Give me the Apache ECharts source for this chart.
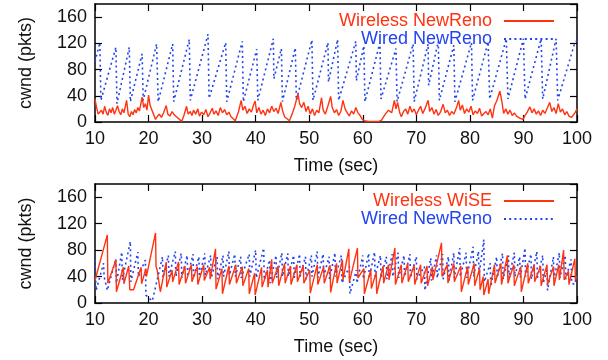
<!DOCTYPE html>
<html><head><meta charset="utf-8">
<script src="https://cdn.jsdelivr.net/npm/echarts@6/dist/echarts.min.js"></script>
<style>html,body{margin:0;padding:0;background:#fff}#c{width:608px;height:360px}</style>
</head><body><div id="c"></div>
<script>
// ---- data (time in sec, cwnd in pkts) ----
const xTicks = [10, 20, 30, 40, 50, 60, 70, 80, 90, 100];
const yTicks = [0, 40, 80, 120, 160];

const wirelessNewReno = [[10.0,35],[10.3,22],[10.6,12],[10.9,9],[11.2,18],[11.5,12],[11.8,24],[12.1,15],[12.4,10],[12.7,20],[13.0,14],[13.3,22],[13.6,12],[13.9,18],[14.2,25],[14.5,16],[14.8,11],[15.1,20],[15.4,14],[15.9,33],[16.2,12],[16.5,8],[16.8,16],[17.1,11],[17.4,19],[17.7,14],[18.0,22],[18.3,17],[18.8,38],[19.1,22],[19.4,28],[19.7,18],[20.0,41],[20.3,25],[20.6,22],[21.3,4],[21.6,8],[22.0,12],[22.4,7],[22.8,14],[23.3,25],[23.6,12],[24.0,9],[24.4,16],[24.8,11],[25.2,8],[26.2,1],[26.6,10],[27.1,24],[27.4,12],[27.8,16],[28.1,10],[28.4,18],[28.8,12],[29.2,20],[29.5,9],[29.9,15],[30.3,11],[30.7,19],[31.1,8],[31.5,14],[31.9,21],[32.2,12],[32.6,17],[33.0,10],[33.4,22],[33.8,14],[34.2,19],[34.6,11],[35.0,15],[35.4,8],[36.2,2],[36.8,16],[37.3,33],[37.6,18],[38.0,24],[38.4,13],[38.8,20],[39.2,15],[39.6,26],[39.9,32],[40.2,14],[40.6,22],[41.0,12],[41.4,18],[41.8,10],[42.2,20],[42.6,14],[43.0,24],[43.4,16],[43.8,21],[44.2,13],[44.7,30],[45.0,18],[45.4,8],[46.3,2],[46.8,12],[47.3,24],[47.9,43],[48.2,28],[48.6,22],[49.0,30],[49.4,16],[49.8,24],[50.2,12],[50.6,20],[51.0,10],[51.4,18],[51.8,14],[52.3,37],[52.6,18],[53.0,12],[53.4,22],[54.0,39],[54.3,22],[54.7,14],[55.1,19],[55.5,10],[55.9,16],[56.3,33],[56.7,20],[57.1,14],[57.5,9],[57.9,17],[58.3,12],[58.7,22],[59.1,14],[59.5,10],[59.9,4],[60.3,2],[61.0,1],[62.0,1],[63.0,1],[63.5,3],[64.2,12],[64.8,18],[65.4,14],[65.9,33],[66.2,20],[66.5,30],[66.9,14],[67.2,8],[67.6,16],[68.0,20],[68.4,12],[68.8,24],[69.2,15],[69.6,20],[70.0,11],[70.4,18],[70.8,24],[71.2,13],[71.6,20],[72.2,33],[72.5,16],[72.9,22],[73.3,12],[73.7,19],[74.1,10],[74.5,15],[75.0,27],[75.4,14],[75.8,18],[76.2,10],[76.6,16],[77.0,12],[77.5,22],[77.9,33],[78.2,18],[78.6,26],[79.0,13],[79.4,20],[79.8,15],[80.2,24],[80.6,11],[81.0,17],[81.4,13],[81.8,21],[82.2,9],[82.6,13],[83.0,16],[83.4,11],[83.8,20],[84.2,6],[84.6,25],[85.0,32],[85.6,47],[86.0,30],[86.3,13],[86.7,20],[87.1,12],[87.5,18],[87.9,10],[88.3,14],[88.7,9],[89.3,6],[89.9,4],[90.3,10],[90.7,15],[91.2,23],[91.6,14],[92.0,20],[92.4,12],[92.8,17],[93.2,10],[93.6,18],[94.0,13],[94.5,22],[94.9,30],[95.3,16],[95.7,22],[96.1,13],[96.5,28],[96.9,15],[97.3,20],[97.7,11],[98.1,16],[98.5,9],[99.0,7],[99.3,5],[99.7,15],[100,20]];

const wiredNewRenoTop = [[10.0,92],[10.9,121],[11.1,33],[13.9,114],[14.1,28],[16.4,114],[16.6,31],[18.8,104],[19.0,33],[21.5,119],[21.8,31],[24.5,119],[24.7,31],[27.6,126],[27.8,33],[31.1,134],[31.3,36],[34.4,121],[34.6,31],[37.5,123],[37.7,31],[40.2,111],[40.4,33],[43.3,127],[43.4,66],[44.8,112],[45.0,31],[47.4,113],[47.6,33],[50.5,125],[50.7,33],[53.5,121],[53.6,61],[55.3,126],[55.5,33],[58.7,123],[58.8,63],[60.2,116],[60.4,31],[63.2,121],[63.4,35],[66.2,112],[66.4,31],[69.4,119],[69.6,31],[72.2,119],[72.3,56],[74.1,123],[74.3,33],[77.0,117],[77.2,31],[80.3,121],[80.5,33],[83.4,122],[83.7,35],[86.8,127],[87.1,35],[90.0,127],[90.3,35],[93.3,127],[93.6,35],[96.1,127],[96.4,33],[99.6,121],[100,124]];

const wirelessWiSE = [[10.0,34],[12.3,103],[12.4,30],[13.9,65],[14.0,17],[15.3,54],[15.4,29],[16.3,56],[16.5,20],[17.2,20],[18.6,54],[18.7,29],[19.5,52],[19.6,40],[21.3,106],[21.4,55],[21.6,50],[22.2,17],[23.3,62],[23.4,24],[24.4,50],[24.5,32],[25.6,62],[25.7,28],[26.8,56],[26.9,30],[28.0,58],[28.1,32],[29.1,55],[29.2,28],[30.3,58],[30.4,34],[31.4,54],[31.5,36],[32.5,82],[32.6,21],[33.7,52],[33.8,14],[35.0,56],[35.1,28],[36.3,58],[36.4,30],[37.5,55],[37.6,26],[38.7,52],[38.8,14],[39.8,45],[39.9,12],[41.1,54],[41.2,24],[42.2,50],[42.3,24],[43.0,66],[43.1,30],[44.2,56],[44.3,26],[45.4,60],[45.5,30],[46.5,56],[46.6,28],[47.7,58],[47.8,32],[48.9,57],[49.0,30],[50.1,50],[50.2,15],[51.5,58],[51.6,28],[52.7,55],[52.8,30],[53.9,57],[54.0,16],[55.1,60],[55.2,30],[56.2,65],[56.3,35],[57.4,82],[57.5,32],[59.0,83],[59.1,38],[60.2,52],[60.3,14],[61.5,50],[61.6,22],[62.5,46],[62.6,14],[63.8,56],[63.9,30],[64.8,58],[64.9,35],[66.0,83],[66.1,28],[67.2,58],[67.3,30],[68.4,60],[68.5,32],[69.6,57],[69.7,28],[70.8,58],[70.9,30],[72.0,56],[72.1,26],[73.0,55],[73.1,35],[74.7,91],[74.8,40],[75.8,58],[75.9,30],[77.0,60],[77.1,32],[78.3,56],[78.4,17],[79.6,55],[79.7,28],[80.8,60],[80.9,26],[81.8,52],[81.9,20],[82.5,40],[82.6,12],[83.4,36],[83.5,14],[84.6,58],[84.7,30],[85.8,60],[85.9,28],[87.0,72],[87.1,30],[88.2,58],[88.3,26],[89.5,55],[89.6,17],[90.8,60],[90.9,30],[92.0,58],[92.1,32],[93.2,56],[93.3,26],[94.4,58],[94.5,28],[95.6,55],[95.7,26],[96.6,58],[96.7,35],[97.5,80],[97.6,35],[98.4,48],[98.5,28],[99.6,67],[99.7,35],[100,40]];

const wiredNewRenoBottom = [[10.0,65],[10.2,19],[11.6,60],[11.7,40],[12.3,19],[13.9,67],[14.0,30],[15.0,77],[15.1,35],[16.6,93],[16.7,32],[18.0,77],[18.1,40],[19.4,65],[19.5,12],[20.7,3],[22.6,70],[22.7,38],[23.7,72],[23.8,40],[25.0,78],[25.1,40],[26.1,75],[26.2,38],[27.2,72],[27.3,40],[28.3,74],[28.4,38],[29.4,70],[29.5,40],[30.5,75],[30.6,42],[31.6,72],[31.7,38],[32.8,70],[32.9,36],[33.9,72],[34.0,40],[35.0,78],[35.1,42],[36.1,74],[36.2,40],[37.2,70],[37.3,38],[38.8,74],[38.9,40],[40.0,80],[40.1,38],[41.5,83],[41.6,35],[42.6,65],[42.7,30],[43.8,72],[43.9,38],[44.9,76],[45.0,40],[46.0,75],[46.1,40],[47.1,72],[47.2,38],[48.2,74],[48.3,40],[49.3,70],[49.4,36],[50.4,72],[50.5,40],[51.5,78],[51.6,38],[52.6,74],[52.7,40],[53.7,70],[53.8,36],[54.8,76],[54.9,40],[56.0,72],[56.1,30],[57.5,55],[57.6,14],[58.8,50],[58.9,30],[60.0,72],[60.1,36],[61.1,75],[61.2,38],[62.2,77],[62.3,40],[63.3,72],[63.4,38],[64.4,70],[64.5,36],[65.5,74],[65.6,40],[66.6,76],[66.7,38],[67.7,72],[67.8,40],[68.8,74],[68.9,38],[70.0,70],[70.1,36],[71.5,55],[71.6,19],[72.7,68],[72.8,34],[73.8,72],[73.9,38],[74.9,74],[75.0,36],[76.0,70],[76.1,34],[77.0,76],[77.1,38],[78.1,83],[78.2,40],[79.3,76],[79.4,38],[80.6,85],[80.7,40],[81.6,78],[81.7,42],[82.6,96],[82.7,32],[83.8,60],[83.9,25],[85.0,70],[85.1,38],[86.1,75],[86.2,36],[87.2,72],[87.3,38],[88.3,76],[88.4,40],[89.3,70],[89.4,38],[90.3,83],[90.4,40],[91.4,74],[91.5,36],[92.5,78],[92.6,38],[93.6,72],[93.7,30],[94.4,50],[94.5,19],[95.6,70],[95.7,36],[96.7,76],[96.8,38],[97.8,72],[97.9,36],[98.9,66],[99.0,30],[99.6,28],[100,45]];

// ---- styling ----
const RED = '#ff3311', BLUE = '#2244ee';
const FONT = '"Liberation Sans", Arial, Helvetica, sans-serif';
const TXT = '#111';

function xAxis(gridIndex, bottom) {
  return {
    type: 'value', gridIndex: gridIndex, position: bottom ? 'bottom' : 'top',
    min: xTicks[0], max: xTicks[xTicks.length - 1], interval: 10,
    name: bottom ? 'Time (sec)' : '', nameLocation: 'middle', nameGap: 35,
    nameTextStyle: { fontSize: 18, fontFamily: FONT, color: TXT },
    axisLine: { show: true, onZero: false, lineStyle: { color: '#000', width: 1.5 } },
    axisTick: { show: true, inside: true, length: 7, lineStyle: { color: '#000', width: 1.2 } },
    axisLabel: { show: bottom, fontSize: 18, fontFamily: FONT, color: TXT, margin: 8 },
    splitLine: { show: false }
  };
}
function yAxis(gridIndex, left) {
  return {
    type: 'value', gridIndex: gridIndex, position: left ? 'left' : 'right',
    min: yTicks[0], max: 180, interval: 40,
    name: left ? 'cwnd (pkts)' : '', nameLocation: 'middle', nameGap: 60,
    nameTextStyle: { fontSize: 18, fontFamily: FONT, color: TXT },
    axisLine: { show: true, onZero: false, lineStyle: { color: '#000', width: 1.5 } },
    axisTick: { show: true, inside: true, length: 7, lineStyle: { color: '#000', width: 1.2 } },
    axisLabel: { show: left, showMaxLabel: false, fontSize: 18, fontFamily: FONT, color: TXT, margin: 8 },
    splitLine: { show: false }
  };
}
function legend(top, names, colors) {
  return {
    orient: 'vertical', right: 53, top: top, align: 'right', padding: 0,
    itemWidth: 50, itemHeight: 14, itemGap: 0, selectedMode: false,
    itemStyle: { opacity: 0 },
    textStyle: { fontSize: 18, fontFamily: FONT, padding: [0, 7, 0, 0] },
    data: names.map((n, i) => ({ name: n, textStyle: { color: colors[i] } }))
  };
}
function line(name, data, xi, yi, color, dotted, z) {
  return {
    type: 'line', name: name, data: data, xAxisIndex: xi, yAxisIndex: yi,
    symbol: 'none', showSymbol: false, z: z, clip: true,
    lineStyle: { color: color, width: dotted ? 1.6 : 1.4, type: dotted ? [2, 3.2] : 'solid' },
    itemStyle: { color: color }
  };
}

const chart = echarts.init(document.getElementById('c'), null, { renderer: 'canvas' });
chart.setOption({
  animation: false,
  backgroundColor: '#fff',
  grid: [
    { left: 95, top: 4, width: 482, height: 118 },
    { left: 95, top: 184, width: 482, height: 119 }
  ],
  xAxis: [xAxis(0, true), xAxis(0, false), xAxis(1, true), xAxis(1, false)],
  yAxis: [yAxis(0, true), yAxis(0, false), yAxis(1, true), yAxis(1, false)],
  legend: [
    legend(12, ['Wireless NewReno', 'Wired NewReno'], [RED, BLUE]),
    legend(192, ['Wireless WiSE', 'Wired NewReno'], [RED, BLUE])
  ],
  series: [
    line('Wired NewReno', wiredNewRenoTop, 0, 0, BLUE, true, 2),
    line('Wireless NewReno', wirelessNewReno, 0, 0, RED, false, 3),
    line('Wired NewReno', wiredNewRenoBottom, 2, 2, BLUE, true, 2),
    line('Wireless WiSE', wirelessWiSE, 2, 2, RED, false, 3)
  ]
});
</script>
</body></html>
